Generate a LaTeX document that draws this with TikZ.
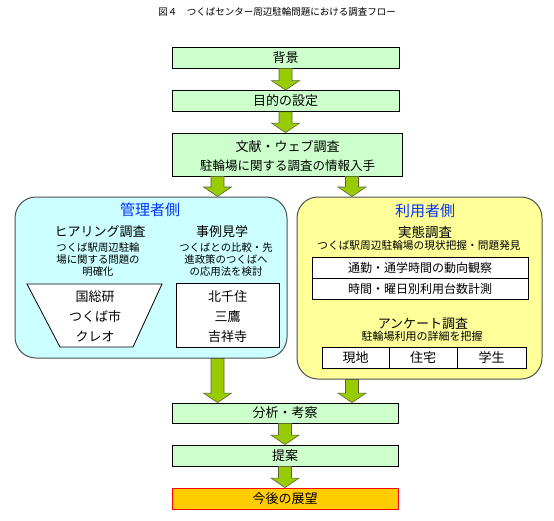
\documentclass[tikz,border=0pt]{standalone}
\usepackage{fontspec}
\setmainfont{Noto Sans CJK JP}
\usetikzlibrary{calc}
\definecolor{boxgreen}{RGB}{204,255,204}
\definecolor{arrgreen}{RGB}{153,204,0}
\definecolor{arredge}{RGB}{90,100,60}
\definecolor{lcyan}{RGB}{204,255,255}
\definecolor{lyellow}{RGB}{255,255,153}
\definecolor{futorange}{RGB}{255,204,0}
\definecolor{headblue}{RGB}{0,51,255}
\definecolor{roundedge}{RGB}{80,80,80}
\tikzset{
  flowbox/.style={draw=black,line width=0.8pt,fill=boxgreen,minimum width=227pt,minimum height=21pt,inner sep=0pt,font=\fontsize{13}{13}\selectfont},
  bigpanel/.style={draw=roundedge,line width=1pt,rounded corners=21pt,inner sep=0pt},
  cellbox/.style={draw=black,line width=0.8pt,fill=white,inner sep=0pt,minimum height=21pt},
  blockarr/.style={fill=arrgreen,draw=arredge,line width=0.6pt,line join=miter},
  lbl/.style={inner sep=0pt,anchor=center},
  headtxt/.style={lbl,font=\fontsize{15}{15}\selectfont,text=headblue},
  subtxt/.style={lbl,font=\fontsize{13}{13}\selectfont},
  smalltxt/.style={lbl,font=\fontsize{10.4}{10.4}\selectfont},
  celltxt/.style={lbl,font=\fontsize{13}{13}\selectfont},
}
\newcommand{\blockarrow}[3]{%
  \draw[blockarr] let \p1=(#2), \p2=(#3) in
    (#1pt-6.5pt,\y1) -- (#1pt+6.5pt,\y1) -- (#1pt+6.5pt,\y2+9.5pt) -- (#1pt+14pt,\y2+9.5pt)
    -- (#1pt,\y2) -- (#1pt-14pt,\y2+9.5pt) -- (#1pt-6.5pt,\y2+9.5pt) -- cycle;}
\begin{document}
\begin{tikzpicture}[x=1pt,y=-1pt]
\useasboundingbox (0,0) rectangle (554,520);
\fill[white] (0,0) rectangle (554,520);
% title
\node[lbl,font=\fontsize{9.5}{9.5}\selectfont] (title) at (277,12) {図４　つくばセンター周辺駐輪問題における調査フロー};
% top flow boxes
\node[flowbox] (bg) at (285.5,57.5) {背景};
\node[flowbox] (goal) at (285.5,101) {目的の設定};
\node[flowbox,minimum width=230pt,minimum height=43pt] (lit) at (287.5,154.5) {};
\node[lbl,font=\fontsize{13}{13}\selectfont] (littitle) at (287.5,146.5) {文献・ウェブ調査};
\node[lbl,font=\fontsize{12.5}{12.5}\selectfont] (litsub) at (287.5,166) {駐輪場に関する調査の情報入手};
% panels
\node[bigpanel,fill=lcyan,minimum width=272pt,minimum height=161pt] (L) at (151,277.5) {};
\node[bigpanel,fill=lyellow,minimum width=245pt,minimum height=182pt] (R) at (419.5,288) {};
% left panel content
\node[headtxt] (lhead) at (150,210) {管理者側};
\node[subtxt] (hear) at (100,232) {ヒアリング調査};
\node[subtxt] (case) at (222,232) {事例見学};
\node[smalltxt] (h1) at (98,248) {つくば駅周辺駐輪};
\node[smalltxt] (h2) at (98,260) {場に関する問題の};
\node[smalltxt] (h3) at (98,271.5) {明確化};
\node[smalltxt] (c1) at (226,248) {つくばとの比較・先};
\node[smalltxt] (c2) at (226,260) {進政策のつくばへ};
\node[smalltxt] (c3) at (226,271.5) {の応用法を検討};
\draw[line width=0.8pt,fill=white] (27,284) -- (162,284) -- (133,347) -- (60,347) -- cycle;
\node[celltxt] (k1) at (95,297) {国総研};
\node[celltxt] (k2) at (95,317) {つくば市};
\node[celltxt] (k3) at (95,337) {クレオ};
\node[cellbox,minimum width=103pt,minimum height=64pt] (caserect) at (227.5,315) {};
\node[celltxt] (e1) at (227.5,297) {北千住};
\node[celltxt] (e2) at (227.5,317) {三鷹};
\node[celltxt] (e3) at (227.5,337) {吉祥寺};
% right panel content
\node[headtxt] (rhead) at (425,211) {利用者側};
\node[lbl,font=\fontsize{13.5}{13.5}\selectfont] (jitai) at (425,232) {実態調査};
\node[lbl,font=\fontsize{10.7}{10.7}\selectfont] (jsub) at (419,245) {つくば駅周辺駐輪場の現状把握・問題発見};
\node[cellbox,minimum width=216pt] (t1a) at (420,267.5) {};
\node[cellbox,minimum width=216pt] (t1b) at (420,288.5) {};
\node[lbl,font=\fontsize{12}{12}\selectfont] (t1at) at (420,268) {通勤・通学時間の動向観察};
\node[lbl,font=\fontsize{12}{12}\selectfont] (t1bt) at (420,289) {時間・曜日別利用台数計測};
\node[lbl,font=\fontsize{13}{13}\selectfont] (anke) at (423,324) {アンケート調査};
\node[lbl,font=\fontsize{11}{11}\selectfont] (ankesub) at (422,336.5) {駐輪場利用の詳細を把握};
\node[cellbox,minimum width=67pt] (t2a) at (355.5,357.5) {};
\node[cellbox,minimum width=68pt] (t2b) at (423,357.5) {};
\node[cellbox,minimum width=69pt] (t2c) at (491.5,357.5) {};
\node[celltxt] (t2at) at (355.5,358) {現地};
\node[celltxt] (t2bt) at (423,358) {住宅};
\node[celltxt] (t2ct) at (491.5,358) {学生};
% bottom flow boxes
\node[flowbox,minimum width=226pt,minimum height=20pt] (anal) at (285,413) {分析・考察};
\node[flowbox,minimum width=226pt] (prop) at (285,455.5) {提案};
\node[flowbox,minimum width=226pt,fill=futorange,draw=red] (fut) at (285,498.5) {今後の展望};
% arrows
\blockarrow{285.5}{bg.south}{goal.north}
\blockarrow{285.5}{goal.south}{lit.north}
\blockarrow{217.5}{lit.south}{L.north}
\blockarrow{352}{lit.south}{R.north}
\blockarrow{217.5}{L.south}{anal.north}
\blockarrow{352}{R.south}{anal.north}
\blockarrow{285}{anal.south}{prop.north}
\blockarrow{285}{prop.south}{fut.north}
\end{tikzpicture}
\end{document}
